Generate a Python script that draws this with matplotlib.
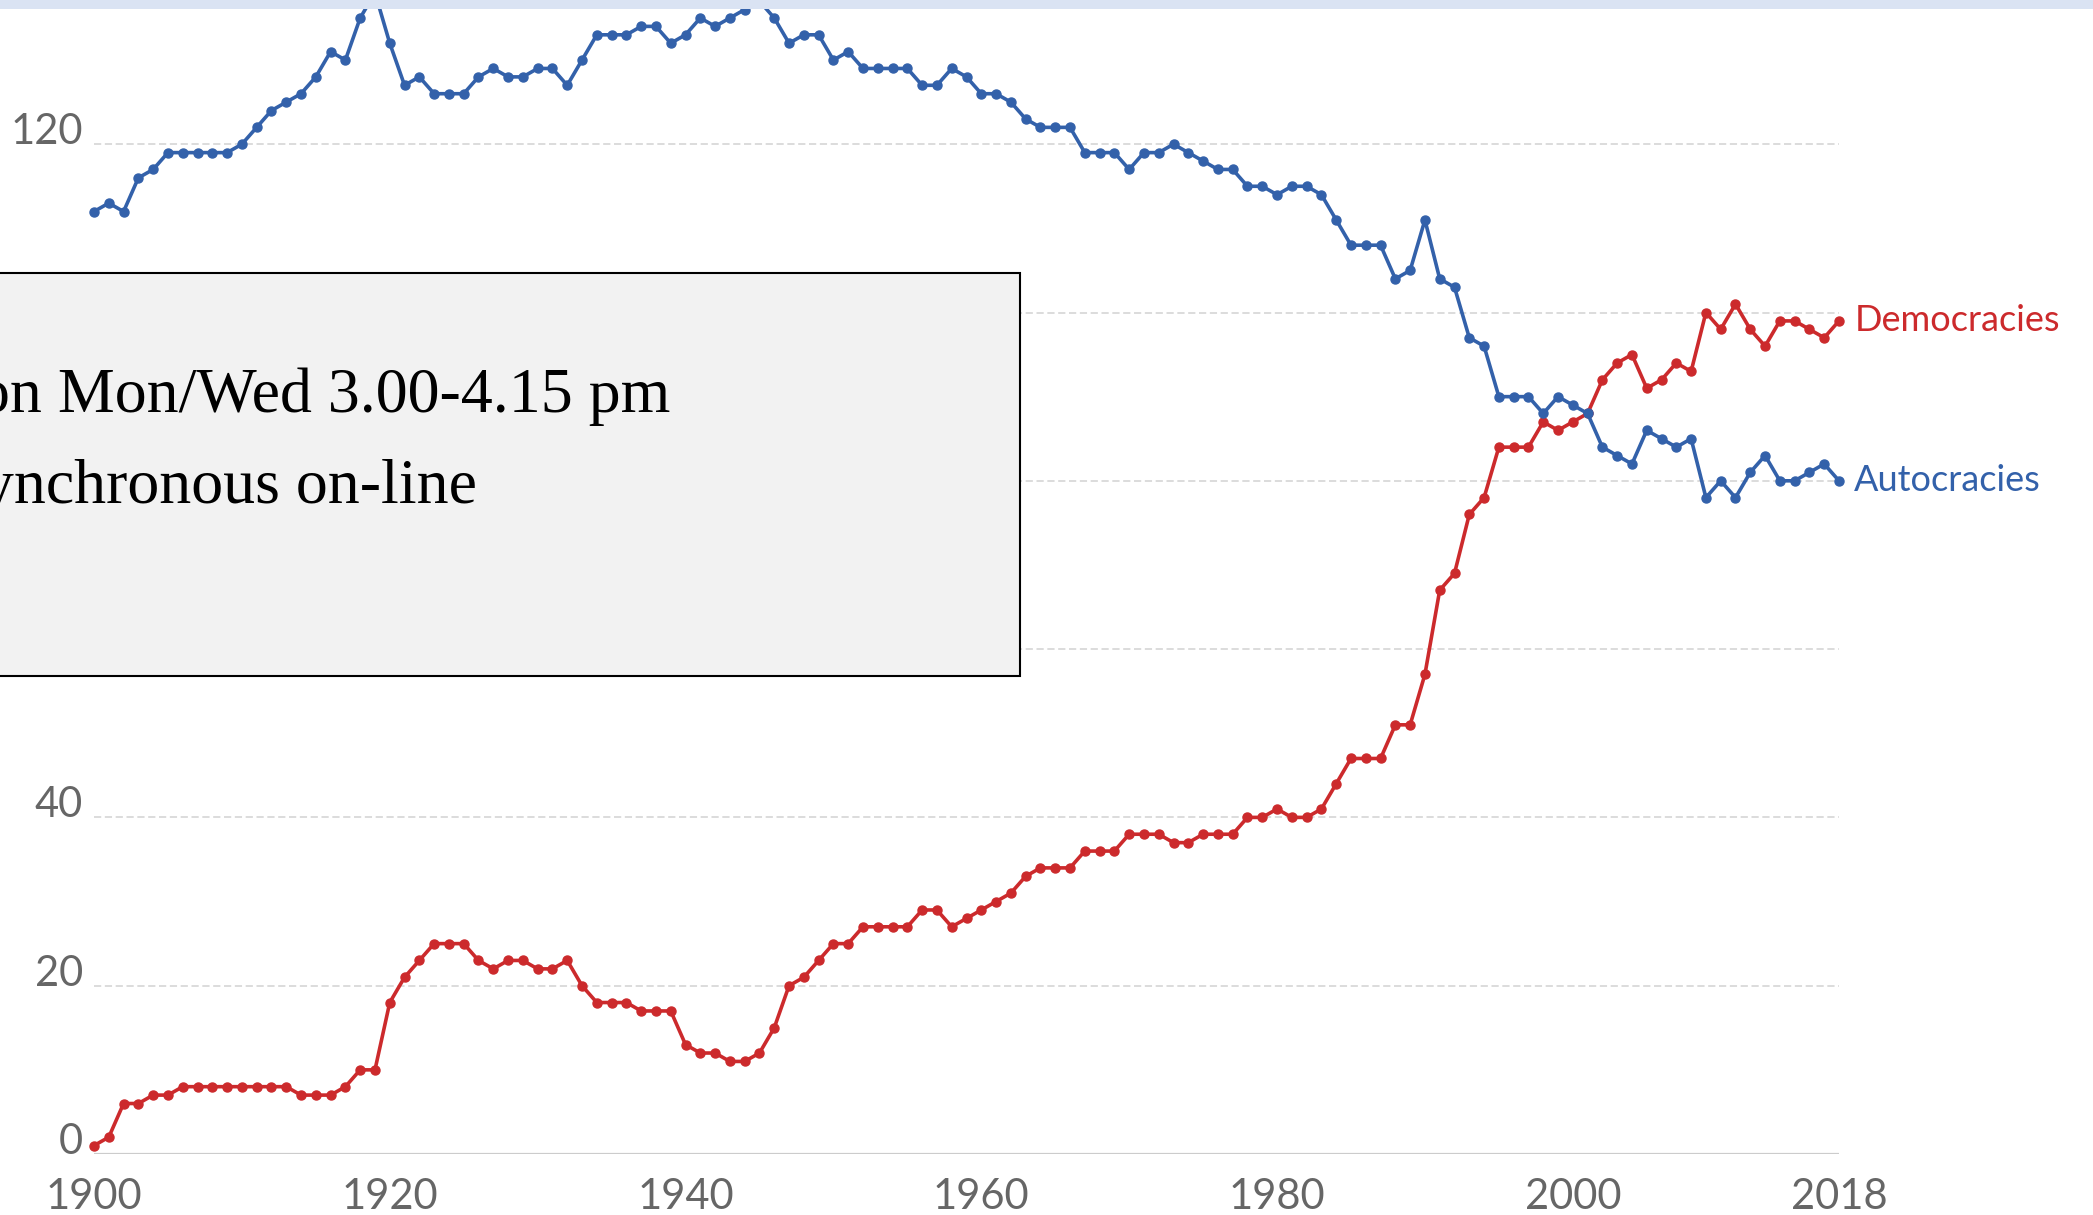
import matplotlib
matplotlib.use("Agg")
import matplotlib.pyplot as plt
from matplotlib.patches import Rectangle
import numpy as np

# Number of democracies and autocracies, 1900-2018
years = np.arange(1900, 2019)

democracies = [
    1, 2, 6, 6, 7, 7, 8, 8, 8, 8,
    8, 8, 8, 8, 7, 7, 7, 8, 10, 10,
    18, 21, 23, 25, 25, 25, 23, 22, 23, 23,
    22, 22, 23, 20, 18, 18, 18, 17, 17, 17,
    13, 12, 12, 11, 11, 12, 15, 20, 21, 23,
    25, 25, 27, 27, 27, 27, 29, 29, 27, 28,
    29, 30, 31, 33, 34, 34, 34, 36, 36, 36,
    38, 38, 38, 37, 37, 38, 38, 38, 40, 40,
    41, 40, 40, 41, 44, 47, 47, 47, 51, 51,
    57, 67, 69, 76, 78, 84, 84, 84, 87, 86,
    87, 88, 92, 94, 95, 91, 92, 94, 93, 100,
    98, 101, 98, 96, 99, 99, 98, 97, 99,
]

autocracies = [
    112, 113, 112, 116, 117, 119, 119, 119, 119, 119,
    120, 122, 124, 125, 126, 128, 131, 130, 135, 138,
    132, 127, 128, 126, 126, 126, 128, 129, 128, 128,
    129, 129, 127, 130, 133, 133, 133, 134, 134, 132,
    133, 135, 134, 135, 136, 137, 135, 132, 133, 133,
    130, 131, 129, 129, 129, 129, 127, 127, 129, 128,
    126, 126, 125, 123, 122, 122, 122, 119, 119, 119,
    117, 119, 119, 120, 119, 118, 117, 117, 115, 115,
    114, 115, 115, 114, 111, 108, 108, 108, 104, 105,
    111, 104, 103, 97, 96, 90, 90, 90, 88, 90,
    89, 88, 84, 83, 82, 86, 85, 84, 85, 78,
    80, 78, 81, 83, 80, 80, 81, 82, 80,
]

y_ticks = [0, 20, 40, 60, 80, 100, 120]
y_labels = ["0", "20", "40", "", "", "", "120"]  # 60-100 sit under the note box
x_ticks = [1900, 1920, 1940, 1960, 1980, 2000, 2018]
box_lines = ["on Mon/Wed 3.00-4.15 pm", "ynchronous on-line"]

red = "#cc2a2c"
blue = "#3361aa"
grey_text = "#666666"

plt.rcParams["font.family"] = ["Lato", "DejaVu Sans"]

W, H = 2093, 1215
fig = plt.figure(figsize=(W / 100, H / 100), dpi=100)
fig.patch.set_facecolor("white")

# axes placed in pixels: 1900 -> x=94, 2018 -> x=1839, y=0 -> 1154 px from top
ax = fig.add_axes([94 / W, 61 / H, (1839 - 94) / W, 1154 / H])
ax.set_xlim(1900, 2018)
ax.set_ylim(0, 1154 / 8.415)

for s in ax.spines.values():
    s.set_visible(False)

for v in y_ticks[1:]:
    ax.axhline(v, color="#d9d9d9", lw=1.3, ls=(0, (4, 2)), zorder=0)
ax.axhline(0, color="#cccccc", lw=1.6, zorder=0)

ax.plot(years, democracies, color=red, lw=2.6, marker="o", ms=6.5, clip_on=False, zorder=3)
ax.plot(years, autocracies, color=blue, lw=2.6, marker="o", ms=6.5, clip_on=False, zorder=3)

ax.annotate("Democracies", xy=(2018, democracies[-1]), xytext=(11, 0),
            textcoords="offset points", va="center", ha="left",
            color=red, fontsize=26, annotation_clip=False)
ax.annotate("Autocracies", xy=(2018, autocracies[-1]), xytext=(11, 0),
            textcoords="offset points", va="center", ha="left",
            color=blue, fontsize=26, annotation_clip=False)

ax.set_yticks(y_ticks)
ax.set_yticklabels(y_labels)
ax.set_xticks(x_ticks)
ax.tick_params(axis="y", length=0, pad=8, labelsize=30, labelcolor=grey_text)
ax.tick_params(axis="x", length=0, pad=17.5, labelsize=30, labelcolor=grey_text)
plt.setp(ax.get_yticklabels(), va="baseline")

# light blue band along the top edge
fig.add_artist(Rectangle((0, 1 - 9 / H), 1, 9 / H, transform=fig.transFigure,
                         facecolor="#dae3f3", edgecolor="none", zorder=10))

# grey note box over the upper-left part of the chart
fig.add_artist(Rectangle((-5 / W, 539 / H), 1025 / W, 403 / H, transform=fig.transFigure,
                         facecolor="#f2f2f2", edgecolor="black", lw=1.5, zorder=11))
fig.text(670 / W, (H - 412) / H, box_lines[0], ha="right", va="baseline",
         family=["Liberation Serif", "DejaVu Serif"], fontsize=46, zorder=12)
fig.text(477 / W, (H - 503) / H, box_lines[1], ha="right", va="baseline",
         family=["Liberation Serif", "DejaVu Serif"], fontsize=46, zorder=12)

fig.savefig("out.png", dpi=100)
